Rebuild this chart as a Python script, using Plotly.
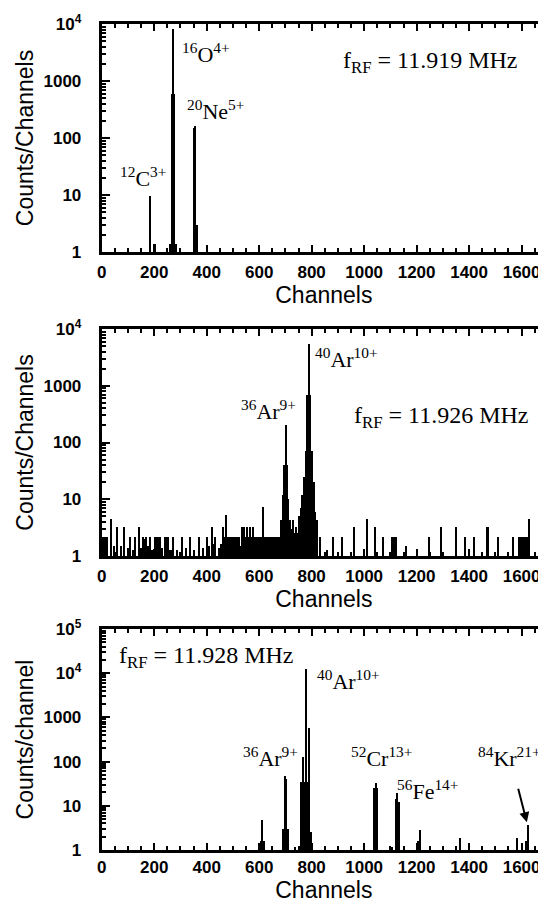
import plotly.graph_objects as go

# ---------------- data (channel, counts per channel) ----------------
# Panel 1: f_RF = 11.919 MHz
ch1 = [185, 201, 259, 266, 270, 274, 281, 351, 357, 363]
cnt1 = [9.7, 1.4, 1.4, 600, 8100, 600, 1.4, 150, 163, 3]

# Panel 2: f_RF = 11.926 MHz
ch2 = [3, 9, 15, 21, 34, 46, 58, 72, 86, 100, 108, 118, 127, 142, 150,
       158, 164, 170, 176, 183, 192, 203, 209, 215, 222, 230, 241, 247, 254,
       262, 273, 288, 305, 320, 337, 352, 369, 385, 400, 410, 419, 425, 432,
       445, 455, 463, 469, 475, 481, 487, 493, 499, 505, 511, 517, 523, 529,
       535, 541, 547, 553, 559, 565, 571, 577, 583, 589, 595, 601, 607, 613,
       619, 625, 631, 637, 643, 649, 655, 661, 667, 673, 679, 685, 691, 696,
       701, 706, 711, 717, 723, 729, 735, 741, 747, 753, 759, 765, 771, 777,
       783, 789, 795, 801, 807, 813, 819, 832, 857, 882, 917, 962, 1012, 1041,
       1070, 1108, 1114, 1121, 1161, 1246, 1292, 1351, 1384, 1417, 1470, 1509,
       1567, 1590, 1596, 1602, 1608, 1614, 1620, 1627]
cnt2 = [2.2, 2.2, 2.2, 2.2, 4.4, 1.5, 3.2, 1.5, 3.2, 1.4, 2.2, 1.3, 2.2, 3.2, 1.4,
        2.2, 2.0, 2.2, 1.5, 2.2, 1.3, 2.2, 2.2, 2.2, 2.2, 1.4, 2.2, 2.2, 2.2,
        1.3, 2.2, 1.3, 2.2, 1.4, 2.2, 1.3, 2.2, 1.4, 2.2, 1.5, 3.2, 1.6, 2.2,
        1.4, 1.6, 3.2, 2.2, 5.2, 2.2, 2.2, 2.2, 2.2, 2.2, 2.2, 2.2, 2.2, 1.5,
        3.2, 3.3, 2.2, 3.2, 2.2, 3.2, 2.2, 3.3, 2.2, 2.2, 2.2, 2.2, 2.2, 7.3,
        2.2, 2.2, 2.2, 2.2, 2.2, 2.2, 2.2, 2.2, 2.2, 2.2, 2.2, 4.3, 12, 40,
        204, 40, 10, 4.3, 3, 4.3, 2.5, 3.3, 2.5, 5, 7, 12, 25, 70,
        700, 5500, 700, 70, 20, 6, 4.3, 2.2, 1.3, 2.2, 2.2, 3.2, 4.4, 3.2,
        2.2, 2.2, 2.2, 2.2, 1.5, 2.2, 3.2, 3.2, 2.2, 2.2, 3.2, 2.2,
        2.2, 2.2, 2.2, 2.2, 2.2, 2.2, 2.2, 4.5]

# Panel 3: f_RF = 11.928 MHz
ch3 = [606, 612, 618, 691, 697, 703, 709, 738, 761, 767, 773, 779, 785, 791,
       797, 1038, 1044, 1050, 1105, 1120, 1126, 1132, 1207, 1213, 1365, 1581,
       1617, 1623]
cnt3 = [1.6, 4.8, 1.6, 3, 48, 40, 3, 1.2, 35, 128, 35, 12400, 35, 575,
        2.5, 25, 33, 25, 1.2, 14, 19, 12, 1.6, 2.8, 1.9, 1.9,
        1.6, 3.7]

x_ticks = [0, 200, 400, 600, 800, 1000, 1200, 1400, 1600]
y_ticks4 = [1, 10, 100, 1000, 10000]
y_text4 = ['1', '10', '100', '1000', '10<sup>4</sup>']
y_ticks5 = [1, 10, 100, 1000, 10000, 100000]
y_text5 = ['1', '10', '100', '1000', '10<sup>4</sup>', '10<sup>5</sup>']

# The page body has an 8 px margin, so the figure is drawn 8 px in from the
# window's top-left corner; layout pixel positions below are in figure pixels.
W, H = 538, 896
LEFT = 93.7

def ydom(top, bottom):
    return [1 - bottom / H, 1 - top / H]

minor_log = [m * 10 ** e for e in range(0, 5) for m in range(2, 10)]

fig = go.Figure()
for i, (cx, cy) in enumerate([(ch1, cnt1), (ch2, cnt2), (ch3, cnt3)], start=1):
    sfx = '' if i == 1 else str(i)
    fig.add_trace(go.Bar(x=cx, y=cy, width=6, xaxis='x' + sfx, yaxis='y' + sfx,
                         marker=dict(color='black', line=dict(width=0)),
                         showlegend=False, hoverinfo='x+y'))

tick_font = dict(family='Liberation Sans, Arial, sans-serif', size=17, color='black', weight='bold')
title_font = dict(family='Liberation Sans, Arial, sans-serif', size=23, color='black')
ann_font = dict(family='Liberation Serif, Times New Roman, serif', size=22, color='black')
frf_font = dict(family='Liberation Serif, Times New Roman, serif', size=24, color='black')

def xaxis(anchor, lab_standoff):
    return dict(domain=[LEFT / W, 1], range=[0, 1693], anchor=anchor, automargin=False,
                tickmode='array', tickvals=x_ticks, ticks='inside', ticklen=7,
                tickwidth=2, tickcolor='black', showline=True, linewidth=3,
                linecolor='black', mirror='ticks', showgrid=False, zeroline=False,
                minor=dict(tickmode='linear', tick0=0, dtick=50, ticks='inside',
                           ticklen=4, tickwidth=1.5, tickcolor='black', showgrid=False),
                tickfont=tick_font, ticklabelstandoff=lab_standoff,
                title=dict(text='Channels', font=title_font, standoff=0))

def yaxis(anchor, dom, top, tv, tt, title):
    return dict(domain=dom, type='log', range=[0, top], anchor=anchor, automargin=False,
                tickmode='array', tickvals=tv, ticktext=tt, ticks='inside',
                ticklen=8, tickwidth=2, tickcolor='black', showline=True,
                linewidth=3, linecolor='black', mirror='ticks', showgrid=False,
                zeroline=False,
                minor=dict(tickmode='array', tickvals=minor_log, ticks='inside',
                           ticklen=4, tickwidth=1.5, tickcolor='black', showgrid=False),
                tickfont=tick_font, ticklabelstandoff=14,
                title=dict(text=title, font=title_font, standoff=4))

fig.update_layout(
    width=W, height=H, margin=dict(l=0, r=0, t=0, b=0, autoexpand=False),
    paper_bgcolor='white', plot_bgcolor='white', bargap=0,
    xaxis=xaxis('y', 3), xaxis2=xaxis('y2', 3), xaxis3=xaxis('y3', 0),
    yaxis=yaxis('x', ydom(16, 244), 4, y_ticks4, y_text4, 'Counts/Channels'),
    yaxis2=yaxis('x2', ydom(321, 548), 4, y_ticks4, y_text4, 'Counts/Channels'),
    yaxis3=yaxis('x3', ydom(621, 842), 5, y_ticks5, y_text5, 'Counts/channel'),
)

anns = [
    ('x', 'y', 399, 3.49, '<sup>16</sup>O<sup>4+</sup>', ann_font),
    ('x', 'y', 432, 2.49, '<sup>20</sup>Ne<sup>5+</sup>', ann_font),
    ('x', 'y', 157, 1.32, '<sup>12</sup>C<sup>3+</sup>', ann_font),
    ('x', 'y', 1251, 3.34, 'f<sub>RF</sub> = 11.919 MHz', frf_font),
    ('x2', 'y2', 931, 3.49, '<sup>40</sup>Ar<sup>10+</sup>', ann_font),
    ('x2', 'y2', 634, 2.57, '<sup>36</sup>Ar<sup>9+</sup>', ann_font),
    ('x2', 'y2', 1293, 2.45, 'f<sub>RF</sub> = 11.926 MHz', frf_font),
    ('x3', 'y3', 401, 4.37, 'f<sub>RF</sub> = 11.928 MHz', frf_font),
    ('x3', 'y3', 940, 3.85, '<sup>40</sup>Ar<sup>10+</sup>', ann_font),
    ('x3', 'y3', 644, 2.11, '<sup>36</sup>Ar<sup>9+</sup>', ann_font),
    ('x3', 'y3', 1067, 2.10, '<sup>52</sup>Cr<sup>13+</sup>', ann_font),
    ('x3', 'y3', 1243, 1.36, '<sup>56</sup>Fe<sup>14+</sup>', ann_font),
    ('x3', 'y3', 1552, 2.10, '<sup>84</sup>Kr<sup>21+</sup>', ann_font),
]
for xr, yr, x, y, t, f in anns:
    fig.add_annotation(xref=xr, yref=yr, x=x, y=y, text=t, showarrow=False,
                       font=f, xanchor='center', yanchor='middle')

fig.add_annotation(xref='x3', yref='y3', x=1620, y=0.63, text='', showarrow=True,
                   ax=-9, ay=-35, arrowhead=2, arrowsize=1, arrowwidth=2,
                   arrowcolor='black')

fig.write_html('out.html')
